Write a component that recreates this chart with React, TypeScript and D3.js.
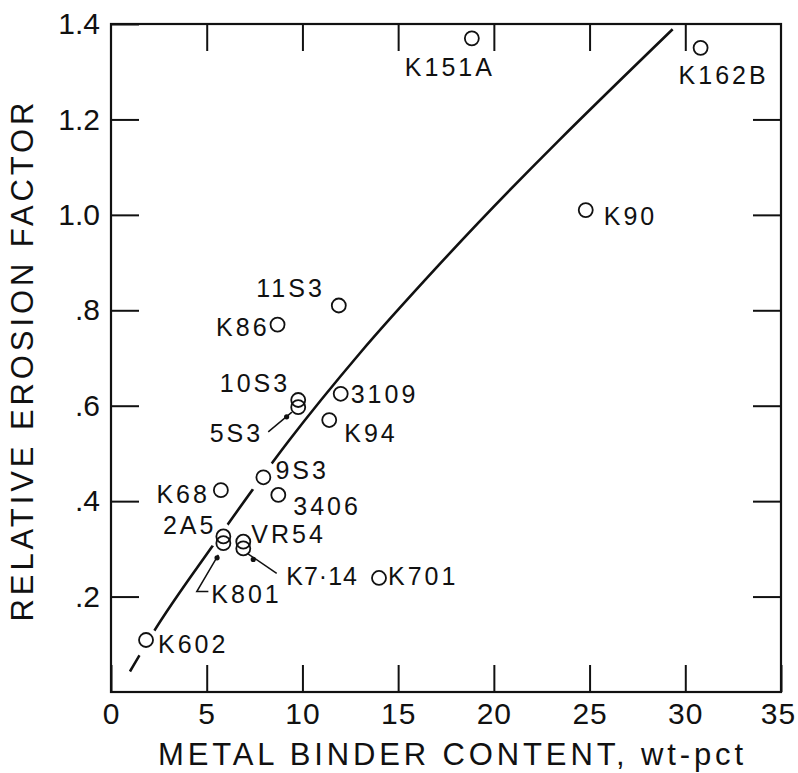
import React, { useRef, useEffect } from 'react';
import * as d3 from 'd3';

// carbide grades
const gradeNames = ['K151A', 'K162B', 'K90', '11S3', 'K86', '10S3', '5S3', '3109', 'K94', '9S3', '3406', 'K68', '2A5', 'K801', 'VR54', 'K7·14', 'K701', 'K602'];
const binderContent = [18.85, 30.8, 24.8, 11.9, 8.7, 9.78, 9.78, 12.0, 11.4, 7.96, 8.74, 5.74, 5.87, 5.87, 6.91, 6.91, 14.0, 1.83];
const erosionFactor = [1.37, 1.35, 1.01, 0.81, 0.77, 0.612, 0.597, 0.625, 0.57, 0.45, 0.413, 0.423, 0.326, 0.312, 0.315, 0.301, 0.239, 0.109];

// hand drawn trend curve
const trendBinder = [0.99, 2.21, 5.34, 9.26, 13.0, 17.36, 29.34];
const trendErosion = [0.043, 0.125, 0.308, 0.525, 0.71, 0.905, 1.389];

// breaks in the trend curve
const gapBinder = [1.86, 5.62, 7.87];
const gapErosion = [0.103, 0.331, 0.453];
const gapRadius = [14.5, 13, 16];

const xTicks = [0, 5, 10, 15, 20, 25, 30, 35];
const xTickLabels = ['0', '5', '10', '15', '20', '25', '30', '35'];
const yTicks = [0.2, 0.4, 0.6, 0.8, 1.0, 1.2, 1.4];
const yTickLabels = ['.2', '.4', '.6', '.8', '1.0', '1.2', '1.4'];

// label placement, px offsets from the marker
const labelPlace: Record<string, [number, number, string]> = {
  'K151A': [-67, 38, 'start'],
  'K162B': [-22, 36, 'start'],
  'K90': [18, 15, 'start'],
  '11S3': [-14, -9, 'end'],
  'K86': [-8, 11, 'end'],
  '10S3': [-8, -8, 'end'],
  '5S3': [-35, 35, 'end'],
  '3109': [10, 9, 'start'],
  'K94': [15, 22, 'start'],
  '9S3': [12, 2, 'start'],
  '3406': [15, 20, 'start'],
  'K68': [-11, 13, 'end'],
  '2A5': [-7, -2, 'end'],
  'K801': [-12, 60, 'start'],
  'VR54': [8, 1, 'start'],
  'K7·14': [43, 37, 'start'],
  'K701': [9, 7, 'start'],
  'K602': [12, 13, 'start'],
};

// leader lines with dot heads, px offsets from the marker
const leaders: Record<string, { pts: [number, number][]; dot: [number, number] }> = {
  '5S3': { pts: [[-30, 24.7], [-6.3, 5]], dot: [-11.6, 9.7] },
  'K801': { pts: [[-15, 48.4], [-26.6, 48.4], [-5, 11.7]], dot: [-6.3, 14.7] },
  'K7·14': { pts: [[4, 5], [33.4, 25]], dot: [10, 11] },
};

const FONT = '"Liberation Sans", Arial, sans-serif';

export default function App() {
  const svgRef = useRef<SVGSVGElement>(null);

  useEffect(() => {
    if (!svgRef.current) return;
    const root = d3.select(svgRef.current);
    root.selectAll('*').remove();

    const x = d3.scaleLinear().domain([0, 35]).range([111, 781]);
    const y = d3.scaleLinear().domain([0, 1.4]).range([692, 24]);

    const svg = root.append('g').style('font-family', FONT);

    // frame
    svg.append('rect')
      .attr('x', x(0)).attr('y', y(1.4))
      .attr('width', x(35) - x(0)).attr('height', y(0) - y(1.4))
      .attr('fill', 'none').attr('stroke', '#111').attr('stroke-width', 2.2);

    const styleAxis = (g: d3.Selection<SVGGElement, unknown, null, undefined>) => {
      g.select('.domain').remove();
      g.selectAll('.tick line').attr('stroke', '#111').attr('stroke-width', 2);
      g.selectAll('text')
        .style('font-family', FONT)
        .style('font-size', '30px')
        .style('letter-spacing', '1px')
        .style('fill', '#111');
    };

    // bottom axis with labels
    svg.append('g')
      .attr('transform', `translate(0,${y(0)})`)
      .call(d3.axisBottom(x).tickValues(xTicks).tickSize(-27).tickPadding(11)
        .tickFormat((_, i) => xTickLabels[i]))
      .call(styleAxis)
      .call(g => g.selectAll('.tick:last-of-type text').attr('x', -3));

    // top axis
    svg.append('g')
      .attr('transform', `translate(0,${y(1.4)})`)
      .call(d3.axisTop(x).tickValues(xTicks.slice(1, -1)).tickSize(-27).tickFormat(() => ''))
      .call(styleAxis);

    // left axis with labels
    svg.append('g')
      .attr('transform', `translate(${x(0)},0)`)
      .call(d3.axisLeft(y).tickValues(yTicks).tickSize(-28).tickPadding(11)
        .tickFormat((_, i) => yTickLabels[i]))
      .call(styleAxis)
      .call(g => g.selectAll('text').style('letter-spacing', '0px'));

    // right axis
    svg.append('g')
      .attr('transform', `translate(${x(35)},0)`)
      .call(d3.axisRight(y).tickValues(yTicks.slice(0, -1)).tickSize(-28).tickFormat(() => ''))
      .call(styleAxis);

    // trend curve, broken where it meets the markers
    const mask = root.append('defs').append('mask').attr('id', 'trend-gaps');
    mask.append('rect').attr('width', 798).attr('height', 773).attr('fill', '#fff');
    gapBinder.forEach((b, i) => {
      mask.append('circle')
        .attr('cx', x(b)).attr('cy', y(gapErosion[i])).attr('r', gapRadius[i])
        .attr('fill', '#000');
    });

    const line = d3.line<number>()
      .x(i => x(trendBinder[i]))
      .y(i => y(trendErosion[i]))
      .curve(d3.curveMonotoneX);

    svg.append('path')
      .attr('d', line(d3.range(trendBinder.length)))
      .attr('fill', 'none')
      .attr('stroke', '#111')
      .attr('stroke-width', 2.6)
      .attr('mask', 'url(#trend-gaps)');

    // markers
    svg.selectAll('.pt')
      .data(d3.range(gradeNames.length))
      .enter()
      .append('circle')
      .attr('class', 'pt')
      .attr('cx', i => x(binderContent[i]))
      .attr('cy', i => y(erosionFactor[i]))
      .attr('r', 7)
      .attr('fill', 'none')
      .attr('stroke', '#111')
      .attr('stroke-width', 1.8);

    // labels
    svg.selectAll('.lbl')
      .data(d3.range(gradeNames.length))
      .enter()
      .append('text')
      .attr('class', 'lbl')
      .attr('x', i => x(binderContent[i]) + labelPlace[gradeNames[i]][0])
      .attr('y', i => y(erosionFactor[i]) + labelPlace[gradeNames[i]][1])
      .attr('text-anchor', i => labelPlace[gradeNames[i]][2])
      .style('font-size', '25px')
      .style('letter-spacing', i => (gradeNames[i] === 'K7·14' ? '1px' : '3px'))
      .style('fill', '#111')
      .text(i => gradeNames[i]);

    // leader lines
    Object.entries(leaders).forEach(([name, ld]) => {
      const i = gradeNames.indexOf(name);
      const cx = x(binderContent[i]);
      const cy = y(erosionFactor[i]);
      svg.append('path')
        .attr('d', d3.line()(ld.pts.map(([dx, dy]) => [cx + dx, cy + dy] as [number, number])))
        .attr('fill', 'none')
        .attr('stroke', '#111')
        .attr('stroke-width', 1.5);
      svg.append('circle')
        .attr('cx', cx + ld.dot[0]).attr('cy', cy + ld.dot[1]).attr('r', 2.6)
        .attr('fill', '#111');
    });

    // axis titles
    svg.append('text')
      .attr('x', 450.5).attr('y', 765)
      .attr('text-anchor', 'middle')
      .attr('textLength', 585).attr('lengthAdjust', 'spacing')
      .style('font-size', '31px')
      .style('fill', '#111')
      .text('METAL BINDER CONTENT, wt-pct');

    svg.append('text')
      .attr('transform', 'translate(33,362) rotate(-90)')
      .attr('text-anchor', 'middle')
      .attr('textLength', 519).attr('lengthAdjust', 'spacing')
      .style('font-size', '31px')
      .style('fill', '#111')
      .text('RELATIVE EROSION FACTOR');
  }, []);

  return (
    <svg
      ref={svgRef}
      width={798}
      height={773}
      style={{ position: 'absolute', left: 0, top: 0, background: '#fff' }}
    />
  );
}
